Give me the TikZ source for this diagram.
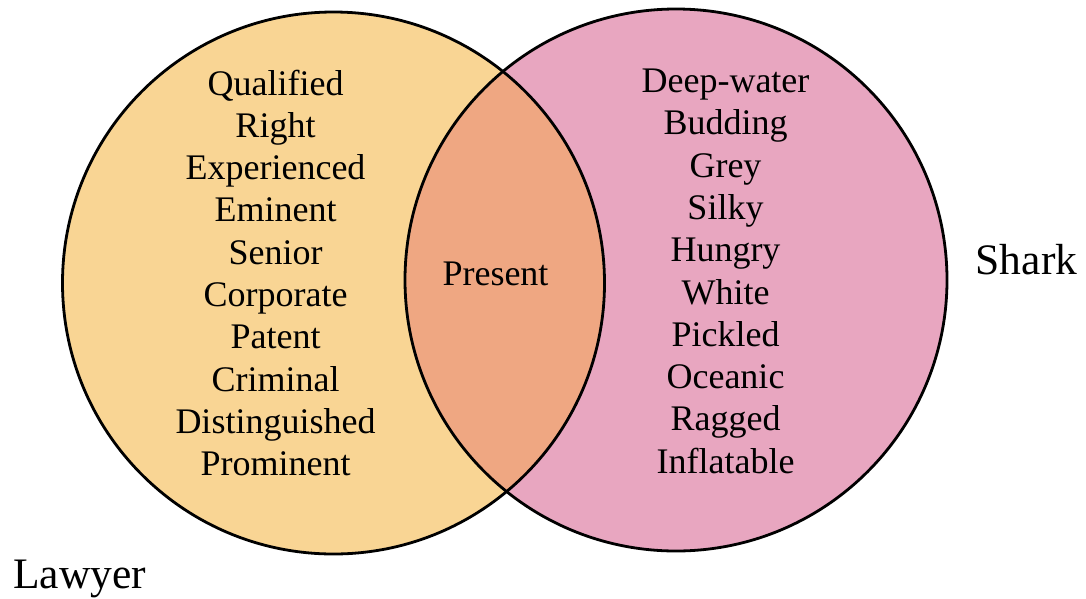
\documentclass[tikz,border=0pt]{standalone}
\usepackage{fontspec}
\setmainfont{Liberation Serif}
\definecolor{lawyerfill}{RGB}{249,213,148}
\definecolor{sharkfill}{RGB}{232,166,192}
\definecolor{bothfill}{RGB}{239,167,130}
\begin{document}
\begin{tikzpicture}[x=1pt,y=-1pt,
  word/.style={anchor=base,inner sep=0pt,font=\fontsize{36}{42}\selectfont},
  setlabel/.style={anchor=base,inner sep=0pt,font=\fontsize{43.5}{50}\selectfont},
  outline/.style={draw=black,line width=2.8pt}]
  \useasboundingbox (0,0) rectangle (1086,598);
  % the two sets
  \coordinate (L) at (333.5,283);
  \coordinate (R) at (676,280);
  \def\rad{271}
  \fill[lawyerfill] (L) circle (\rad);
  \fill[sharkfill] (R) circle (\rad);
  \begin{scope}
    \clip (L) circle (\rad);
    \fill[bothfill] (R) circle (\rad);
  \end{scope}
  \draw[outline] (L) circle (\rad);
  \draw[outline] (R) circle (\rad);
  % lawyer-only words
  \foreach \w [count=\i] in {Qualified,Right,Experienced,Eminent,Senior,Corporate,Patent,Criminal,Distinguished,Prominent}
    \node[word] (lw\i) at (275.5,{95+(\i-1)*42.3}) {\w};
  % shark-only words
  \foreach \w [count=\i] in {Deep-water,Budding,Grey,Silky,Hungry,White,Pickled,Oceanic,Ragged,Inflatable}
    \node[word] (sw\i) at (725.5,{92.5+(\i-1)*42.3}) {\w};
  % shared word
  \node[word] (both) at (495.5,285) {Present};
  % set names
  \node[setlabel] (shark) at (1026.5,274.5) {Shark};
  \node[setlabel] (lawyer) at (79.7,588.3) {Lawyer};
\end{tikzpicture}
\end{document}
